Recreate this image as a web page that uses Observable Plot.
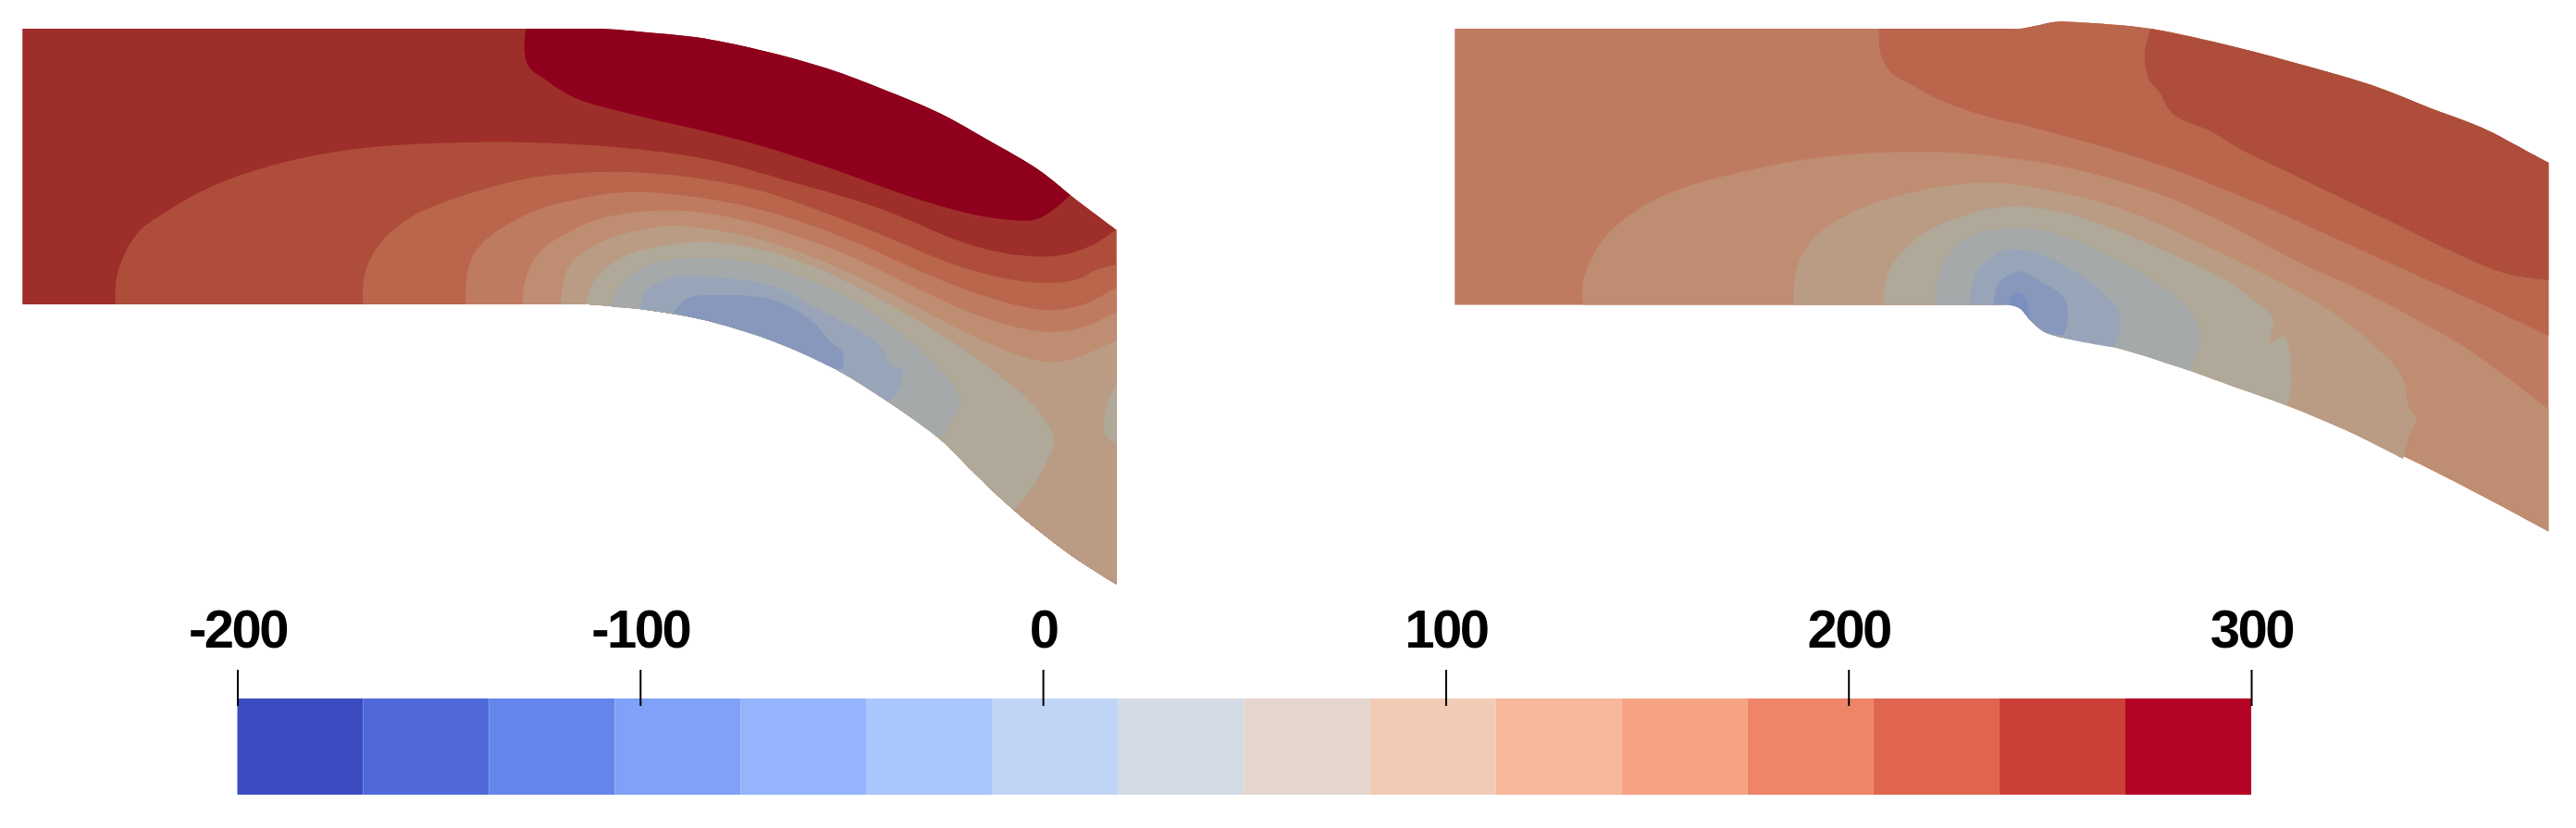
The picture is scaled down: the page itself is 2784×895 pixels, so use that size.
<!DOCTYPE html>
<html><head><meta charset="utf-8">
<script src="https://cdn.jsdelivr.net/npm/d3@7"></script>
<script src="https://cdn.jsdelivr.net/npm/@observablehq/plot@0.6"></script>
<style>html,body{margin:0;padding:0;background:#fff}#page{position:relative;width:2784px;height:895px;overflow:hidden}</style>
</head><body><div id="page"></div>
<script>
// colour bar
const barEdges=[-200,-168.75,-137.5,-106.25,-75,-43.75,-12.5,18.75,50,81.25,112.5,143.75,175,206.25,237.5,268.75,300];
const barColors=["#3b4cc0","#4f69d9","#6485ec","#7fa1f7","#94b4fd","#aac7fd","#c0d4f5","#d5dbe5","#e4d6cd","#f2cbb7","#f7b89c","#f6a385","#ee8468","#e0654f","#cd4039","#b40426"];
const barTicks=[-200,-100,0,100,200,300];
// field shades (band low edge -> shaded colour)
const fieldValues=[-75,-43.75,-12.5,18.75,50,81.25,112.5,143.75,175,206.25,237.5,268.75];
const fieldColors=["#7b8fc0","#8798bc","#98a5b8","#a5a9aa","#b0a898","#ba9c85","#bf8d71","#bf7b60","#b9664c","#ae4e3a","#9e2e2a","#8e001c"];

// left panel, mesh coordinates
const aUpper=[[30,75],[780,75],[820,75],[870,82],[960,100],[1040,132],[1130,180],[1210,238],[1280,295],[1350,370],[1420,450],[1462,515],[1525,607]];
const aLower=[[30,805],[775,805],[800,805],[885,820],[970,850],[1060,905],[1140,975],[1215,1065],[1283,1160],[1330,1250],[1385,1350],[1460,1465],[1525,1546]];
const aBlob=[[718,75],[716,130],[722,175],[745,210],[785,258],[870,305],[960,345],[1040,385],[1120,435],[1200,490],[1265,533],[1330,567],[1375,580],[1415,580],[1445,545],[1462,515]];
const aC206=[[157,805],[158,740],[170,670],[190,610],[222,565],[265,515],[310,475],[405,420],[500,390],[600,378],[720,376],[850,390],[970,422],[1080,480],[1170,530],[1240,580],[1290,622],[1350,660],[1395,675],[1445,676],[1490,650],[1525,607]];
const aC175=[[496,805],[495,770],[500,710],[520,640],[560,575],[620,525],[710,475],[780,458],[850,454],[950,470],[1040,505],[1130,565],[1210,625],[1290,690],[1370,735],[1430,748],[1470,740],[1500,712],[1525,700]];
const aC144=[[636,805],[638,720],[655,650],[715,570],[780,530],[860,507],[940,518],[1020,545],[1100,590],[1180,650],[1260,720],[1340,780],[1400,812],[1440,820],[1480,805],[1525,760]];
const aC112=[[714,805],[716,750],[735,670],[790,600],[850,565],[930,557],[1010,580],[1090,625],[1170,685],[1250,760],[1330,830],[1400,870],[1440,878],[1480,865],[1525,825]];
const aC81=[[766,805],[775,710],[815,645],[880,605],[930,597],[1010,620],[1090,665],[1170,730],[1250,810],[1330,890],[1400,945],[1440,958],[1480,940],[1525,900]];
const aC50=[[800,805],[810,745],[850,680],[910,648],[970,640],[1050,665],[1130,720],[1210,800],[1290,890],[1370,1000],[1420,1090],[1440,1165],[1430,1220],[1410,1290],[1385,1350]];
const aC50b=[[1525,1010],[1510,1090],[1510,1150],[1525,1175]];
const aC19=[[835,812],[845,760],[880,705],[950,682],[1030,695],[1110,745],[1190,825],[1270,950],[1310,1050],[1305,1100],[1283,1160]];
const aC12=[[875,820],[880,775],[915,735],[990,735],[1060,760],[1115,815],[1160,860],[1200,910],[1220,970],[1232,975],[1230,1020],[1215,1065]];
const aC44=[[920,828],[938,790],[980,780],[1060,795],[1110,850],[1135,905],[1150,930],[1150,975],[1140,975]];

// right panel, mesh coordinates
const bUpper=[[40,80],[790,80],[810,80],[830,72],[860,60],[900,63],[988,80],[1100,130],[1200,185],[1290,240],[1370,305],[1440,360],[1500,425],[1530,458]];
const bLower=[[40,860],[780,860],[795,860],[810,870],[825,905],[845,938],[940,980],[1040,1045],[1100,1090],[1175,1145],[1250,1210],[1340,1295],[1440,1400],[1530,1500]];
const bC175=[[618,80],[620,150],[635,205],[660,235],[700,280],[760,325],[830,360],[900,400],[980,450],[1060,510],[1130,570],[1200,635],[1280,710],[1360,785],[1440,860],[1530,947]];
const bC206=[[988,80],[980,150],[985,220],[1000,260],[1018,320],[1070,370],[1110,420],[1170,480],[1240,550],[1320,630],[1400,710],[1470,770],[1530,790]];
const bC112=[[215,860],[215,790],[240,680],[290,590],[350,530],[440,480],[530,445],[620,430],[720,430],[830,455],[920,495],[1010,555],[1090,630],[1190,740],[1260,805],[1340,890],[1420,985],[1470,1060],[1530,1155]];
const bC81=[[502,860],[505,760],[530,670],[590,590],[680,535],[770,515],[860,540],[950,590],[1040,670],[1130,760],[1220,860],[1290,970],[1330,1060],[1340,1150],[1350,1180],[1340,1230],[1332,1295]];
const bC50=[[625,860],[630,770],[670,670],[730,610],[790,583],[860,595],[930,640],[1010,710],[1090,790],[1130,850],[1155,900],[1150,965],[1170,950],[1180,1060],[1175,1145]];
const bC19=[[695,860],[700,770],[730,680],[790,643],[850,655],[920,710],[990,790],[1030,850],[1055,930],[1050,1000],[1040,1045]];
const bC12=[[742,860],[750,770],[790,705],[830,712],[880,760],[920,820],[945,880],[945,940],[938,980]];
const bC44=[[774,860],[780,800],[810,765],[835,790],[870,840],[875,900],[870,945]];
const bC75=[[795,860],[798,835],[810,825],[820,850],[822,885],[825,905]];

// a repeated vertex keeps the corner sharp under the smooth closed curve
const twice=p=>[p,p];
const closeOn=(c,edge)=>{const xs=c[0][0],xe=c[c.length-1][0];
  const rest=edge.filter(p=>p[0]>xs&&p[0]<xe).reverse();
  const corner=edge.filter(p=>p[0]===xe&&(p[1]!==c[c.length-1][1]));
  return [...twice(c[0]),...c.slice(1,-1),...twice(c[c.length-1]),...corner.flatMap(twice),...rest];};
const wallBlob=c=>[...twice(c[0]),...c.slice(1,-1),...twice(c[c.length-1])];
const domainOf=(up,lo)=>[...twice(up[0]),...up.slice(1,-1),...twice(up[up.length-1]),...twice(lo[lo.length-1]),...lo.slice(1,-1).reverse(),...twice(lo[0])];
const region=(pts,value,id)=>pts.map(([x,y])=>({x,y,value,id}));
const fieldPlot=(rows,w,h,left)=>{
  const p=Plot.plot({width:w,height:h,margin:0,
    x:{domain:[0,1568],range:[0,w],axis:null},y:{domain:[0,1568],range:[0,h],axis:null},
    color:{type:"ordinal",domain:fieldValues,range:fieldColors},
    style:{position:"absolute",left:left+"px",top:"0px",background:"transparent",maxWidth:"none",overflow:"visible"},
    marks:[Plot.line(rows,{x:"x",y:"y",z:"id",fill:"value",stroke:null,curve:"catmull-rom-closed"})]});
  document.getElementById("page").appendChild(p);
};
const aRows=[
  ...region(domainOf(aUpper,aLower),237.5,"dom"),
  ...region(closeOn(aBlob,aUpper),268.75,"blob"),
  ...region(closeOn(aC206,aLower),206.25,"c206"),
  ...region(closeOn(aC175,aLower),175,"c175"),
  ...region(closeOn(aC144,aLower),143.75,"c144"),
  ...region(closeOn(aC112,aLower),112.5,"c112"),
  ...region(closeOn(aC81,aLower),81.25,"c81"),
  ...region(closeOn(aC50,aLower),50,"c50"),
  ...region(wallBlob(aC50b),50,"c50b"),
  ...region(closeOn(aC19,aLower),18.75,"c19"),
  ...region(closeOn(aC12,aLower),-12.5,"c12"),
  ...region(closeOn(aC44,aLower),-43.75,"c44")];
const bRows=[
  ...region(domainOf(bUpper,bLower),143.75,"dom"),
  ...region(closeOn(bC175,bUpper),175,"c175"),
  ...region(closeOn(bC206,bUpper),206.25,"c206"),
  ...region(closeOn(bC112,bLower),112.5,"c112"),
  ...region(closeOn(bC81,bLower),81.25,"c81"),
  ...region(closeOn(bC50,bLower),50,"c50"),
  ...region(closeOn(bC19,bLower),18.75,"c19"),
  ...region(closeOn(bC12,bLower),-12.5,"c12"),
  ...region(closeOn(bC44,bLower),-43.75,"c44"),
  ...region(closeOn(bC75,bLower),-75,"c75")];
fieldPlot(aRows,1240,640,0);
fieldPlot(bRows,1244,600,1540);

const barRows=barColors.map((c,i)=>({x1:barEdges[i],x2:barEdges[i+1]}));
const bar=Plot.plot({width:2784,height:255,marginTop:122,marginBottom:36,marginLeft:0,marginRight:0,
  x:{domain:[-200,300],range:[256.5,2433]},
  y:{domain:[0,1],range:[115,219],axis:null},
  color:{type:"threshold",domain:barEdges.slice(1,-1),range:barColors},
  style:{position:"absolute",left:"0px",top:"640px",background:"transparent",maxWidth:"none",overflow:"visible",color:"#000",fontFamily:"'Liberation Sans'",letterSpacing:"-2.5px"},
  marks:[
    Plot.rect(barRows,{x1:"x1",x2:"x2",y1:()=>0,y2:()=>1,fill:"x1"}),
    Plot.axisX({anchor:"top",ticks:barTicks,tickSize:39,tickPadding:24,fontSize:58,fontWeight:700,tickFormat:d=>String(d),label:null,stroke:"#000",strokeWidth:2,strokeOpacity:1,opacity:1})
  ]});
document.getElementById("page").appendChild(bar);
</script></body></html>
